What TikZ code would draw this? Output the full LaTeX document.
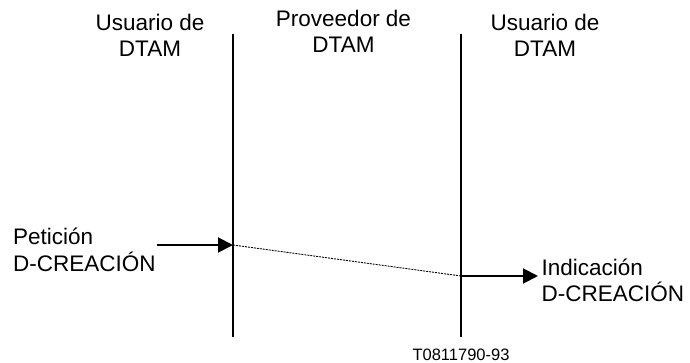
\documentclass[tikz,border=0pt]{standalone}
\usepackage{fontspec}
\setmainfont{Liberation Sans}
\usetikzlibrary{arrows.meta,positioning}
\tikzset{
  lbl/.style={font=\fontsize{22.5}{26.5}\selectfont, inner sep=0pt},
  lifeline/.style={line width=2pt},
  prim/.style={line width=2pt, -{Triangle[length=15pt, width=15pt]}},
  relay/.style={line width=0.9pt, dash pattern=on 2pt off 1pt}
}

\begin{document}
\begin{tikzpicture}[x=1pt,y=-1pt]
\useasboundingbox (0,0) rectangle (690,363);
% Titles
\node[lbl, align=center, anchor=base] (usrA) at (150,57) {Usuario de\\DTAM};
\node[lbl, align=center, anchor=base] (prov) at (343.5,53) {Proveedor de\\DTAM};
\node[lbl, align=center, anchor=base] (usrB) at (545,57) {Usuario de\\DTAM};
% Lifelines
\coordinate (provTop) at (233,34);
\coordinate (provBot) at (233,337);
\coordinate (usrTop) at (461,34);
\coordinate (usrBot) at (461,337);
\draw[lifeline] (provTop) -- (provBot);
\draw[lifeline] (usrTop) -- (usrBot);
% Primitives
\coordinate (reqStart) at (157,245);
\coordinate (reqEnd) at (233,245);
\coordinate (indStart) at (461,276);
\coordinate (indEnd) at (538,276);
\draw[prim] (reqStart) -- (reqEnd);
\draw[relay] (reqEnd) -- (indStart);
\draw[prim] (indStart) -- (indEnd);
% Labels
\node[lbl, align=left, anchor=base west] (req) at (13,271) {Petición\\D-CREACIÓN};
\node[lbl, align=left, anchor=base west] (ind) at (541.5,301.5) {Indicación\\D-CREACIÓN};
\node[font=\fontsize{16.5}{18}\selectfont, inner sep=0pt, anchor=base] (ref) at (461,360) {T0811790-93};
\end{tikzpicture}
\end{document}
